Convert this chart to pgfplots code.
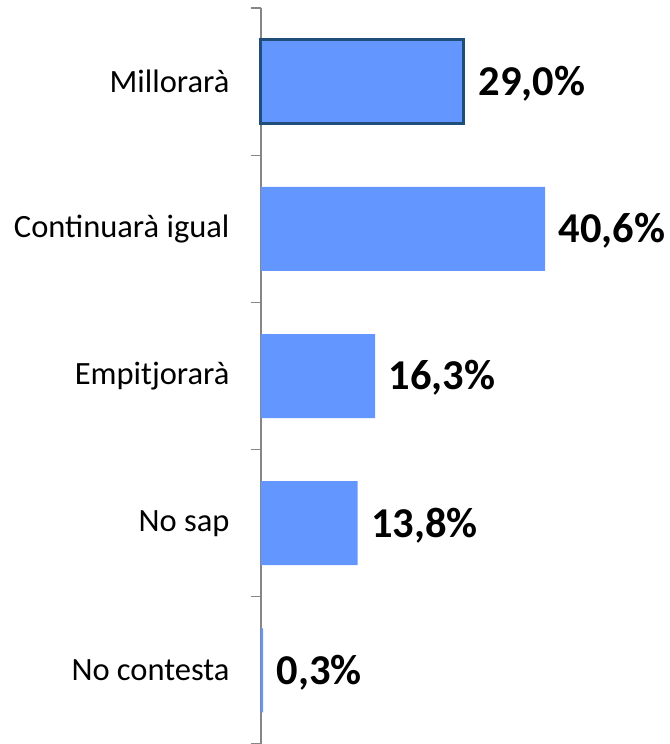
\documentclass[border=0pt]{standalone}
\usepackage{fontspec}
\setmainfont{Carlito}
\usepackage{pgfplots}
\pgfplotsset{compat=1.18}

\definecolor{barblue}{HTML}{6496FF}
\definecolor{edgeblue}{HTML}{1F4E79}
\definecolor{axisgrey}{HTML}{868686}

\begin{document}
\begin{tikzpicture}
	\useasboundingbox (-261bp,0bp) rectangle (409bp,744bp);
	\begin{axis}[at={(0,0)}, anchor=south west, scale only axis,
		width=406bp, height=736bp,
		xbar, bar width=84bp, bar shift=0pt,
		xmin=0, xmax=58, ymin=-0.5, ymax=4.5, y dir=reverse,
		axis x line=none, axis y line*=left,
		y axis line style={draw=axisgrey, line width=1.2bp, -},
		ytick={0,1,2,3,4},
		yticklabels={Millorarà, Continuarà igual, Empitjorarà, No sap, No contesta},
		major tick length=0pt,
		minor ytick={-0.5,0.5,1.5,2.5,3.5,4.5},
		minor tick length=10bp, tick align=outside,
		minor tick style={draw=axisgrey, line width=1.2bp},
		yticklabel style={font=\fontsize{32.5bp}{36bp}\selectfont, xshift=-28bp},
		nodes near coords={\pgfmathprintnumber[fixed, fixed zerofill, precision=1, use comma, assume math mode=true]{\pgfplotspointmeta}\%},
		every node near coord/.append style={font=\fontsize{42.5bp}{46bp}\selectfont\bfseries, black, xshift=10bp, yshift=-2bp},
		clip=false]
		\addplot[fill=barblue, draw=none] coordinates {(40.6,1) (16.3,2) (13.8,3) (0.3,4)};
		\addplot[fill=barblue, draw=edgeblue, line width=3bp] coordinates {(29.0,0)};
	\end{axis}
\end{tikzpicture}
\end{document}
